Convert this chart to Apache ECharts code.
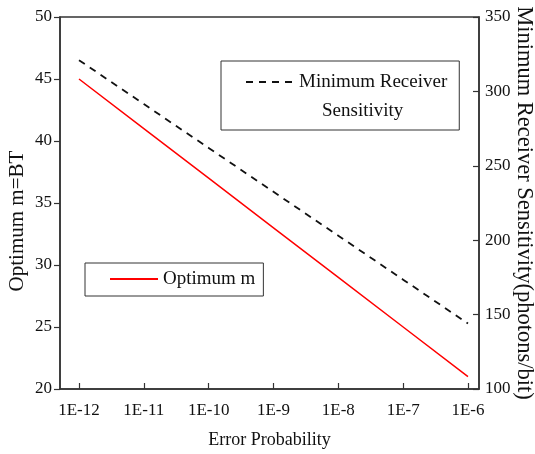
<!DOCTYPE html>
<html>
<head>
<meta charset="utf-8">
<script src="https://cdn.jsdelivr.net/npm/echarts@6/dist/echarts.min.js"></script>
<style>
html,body{margin:0;padding:0;background:#fff;}
#chart{width:535px;height:454px;}
</style>
</head>
<body>
<div id="chart"></div>
<script>
// Data
const exponents = [-12, -11, -10, -9, -8, -7, -6];
const tickLabels = ['1E-12', '1E-11', '1E-10', '1E-9', '1E-8', '1E-7', '1E-6'];
const optimumM = [45, 41, 37, 33, 29, 25, 21];
const minSensitivity = [321, 291.5, 262, 232.5, 203, 173.5, 144];
const leftTicks = [20, 25, 30, 35, 40, 45, 50];
const rightTicks = [100, 150, 200, 250, 300, 350];

const FONT = '"Liberation Serif", "Times New Roman", serif';
const AX = '#333';

const chart = echarts.init(document.getElementById('chart'), null, {renderer: 'canvas'});

const labelFor = v => {
  const i = exponents.indexOf(Math.round(v));
  return i >= 0 ? tickLabels[i] : '';
};

chart.setOption({
  animation: false,
  backgroundColor: '#fff',
  grid: {left: 60, right: 56, top: 17, bottom: 65, show: true, borderColor: AX, borderWidth: 1.5,
         containLabel: false, outerBoundsMode: 'none'},
  xAxis: {
    type: 'value',
    min: -12.293, max: -5.83,
    name: 'Error Probability',
    nameLocation: 'middle', nameGap: 42, nameMoveOverlap: false,
    nameTextStyle: {fontFamily: FONT, fontSize: 18, color: '#111'},
    axisLine: {show: true, onZero: false, lineStyle: {color: AX, width: 1.5}},
    axisTick: {show: true, inside: true, length: 6, customValues: exponents, lineStyle: {color: AX, width: 1.2}},
    axisLabel: {customValues: exponents, formatter: labelFor, fontFamily: FONT, fontSize: 17, color: '#111', margin: 13},
    splitLine: {show: false}
  },
  yAxis: [{
    type: 'value', min: 20, max: 50, interval: 5, position: 'left',
    name: 'Optimum m=BT', nameLocation: 'middle', nameGap: 32, nameRotate: 90, nameMoveOverlap: false,
    nameTextStyle: {fontFamily: FONT, fontSize: 21, color: '#111', padding: [0, 36, 0, 0]},
    axisLine: {show: true, lineStyle: {color: AX, width: 1.5}},
    axisTick: {show: true, inside: false, length: 6, lineStyle: {color: AX, width: 1.2}},
    axisLabel: {fontFamily: FONT, fontSize: 17, color: '#111', margin: 8},
    splitLine: {show: false}
  }, {
    type: 'value', min: 100, max: 350, interval: 50, position: 'right',
    name: 'Minimum Receiver Sensitivity(photons/bit)', nameLocation: 'middle', nameGap: 33, nameRotate: -90, nameMoveOverlap: false,
    nameTextStyle: {fontFamily: FONT, fontSize: 22.5, color: '#111'},
    axisLine: {show: true, lineStyle: {color: AX, width: 1.5}},
    axisTick: {show: true, inside: true, length: 6, lineStyle: {color: AX, width: 1.2}},
    axisLabel: {fontFamily: FONT, fontSize: 17, color: '#111', margin: 6},
    splitLine: {show: false}
  }],
  legend: [{
    data: ['Minimum Receiver'],
    left: 221, top: 61,
    orient: 'vertical',
    padding: [10, 12, 37, 24],
    itemWidth: 48, itemHeight: 14,
    itemStyle: {opacity: 0},
    borderColor: AX, borderWidth: 1,
    textStyle: {fontFamily: FONT, fontSize: 19, color: '#111', lineHeight: 22},
    selectedMode: false
  }, {
    data: ['Optimum m'],
    left: 85, top: 263,
    orient: 'vertical',
    padding: [5, 8, 6, 24],
    itemWidth: 48, itemHeight: 14,
    itemStyle: {opacity: 0},
    borderColor: AX, borderWidth: 1,
    textStyle: {fontFamily: FONT, fontSize: 19, color: '#111', lineHeight: 22},
    selectedMode: false
  }],
  graphic: [{
    type: 'text', left: 322, top: 102,
    style: {text: 'Sensitivity', font: '19px ' + FONT, fill: '#111'}
  }],
  series: [{
    name: 'Optimum m', type: 'line', yAxisIndex: 0,
    data: exponents.map((e, i) => [e, optimumM[i]]),
    symbol: 'none', showSymbol: false,
    lineStyle: {color: '#ff0000', width: 1.5},
    itemStyle: {color: '#ff0000'}
  }, {
    name: 'Minimum Receiver', type: 'line', yAxisIndex: 1,
    data: exponents.map((e, i) => [e, minSensitivity[i]]),
    symbol: 'none', showSymbol: false,
    lineStyle: {color: '#111', width: 1.8, type: [7, 6]},
    itemStyle: {color: '#111'}
  }]
});
</script>
</body>
</html>
